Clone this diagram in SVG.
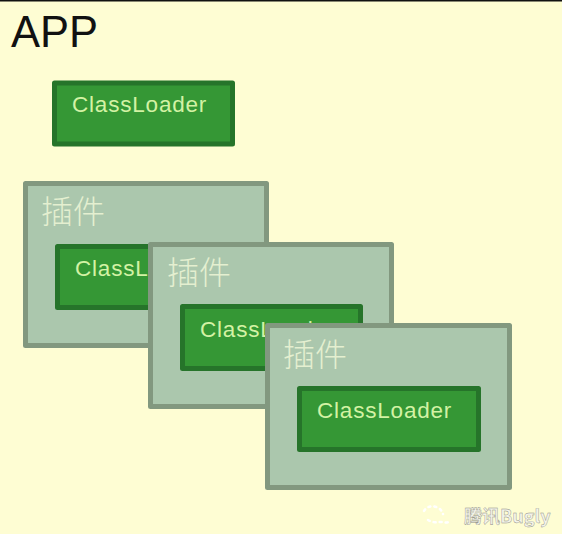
<svg xmlns="http://www.w3.org/2000/svg" width="562" height="534" viewBox="0 0 562 534">
  <style>
    .plugin { fill: #abc7ad; stroke: #82987f; stroke-width: 5; stroke-linejoin: round; }
    .loader { fill: #359735; stroke: #26742a; stroke-width: 5; stroke-linejoin: round; }
    .cl { font-family: "Liberation Sans", Arial, sans-serif; font-size: 22.5px; fill: #d3f2a4; letter-spacing: 0.8px; }
    .cjk { font-family: "Noto Sans CJK SC", "Noto Sans", sans-serif; font-size: 32px; fill: #e4efd0; font-weight: 300; }
  </style>
  <rect x="0" y="0" width="562" height="534" fill="#fefdd3"/>
  <rect x="0" y="0" width="562" height="1.5" fill="#111111"/>
  <text id="title" x="11" y="47" font-family="'Liberation Sans', Arial, sans-serif" font-size="43.500" fill="#111111">APP</text>
  <g id="app-loader">
    <rect class="loader" x="54.5" y="83" width="178" height="61"/>
    <text class="cl" x="72" y="112">ClassLoader</text>
  </g>
  <g id="plugin-1">
    <rect class="plugin" x="25.5" y="183.500" width="241" height="162"/>
    <text class="cjk" x="41" y="223">插件</text>
    <rect class="loader" x="57.500" y="246.500" width="178" height="61"/>
    <text class="cl" x="75" y="276">ClassLoader</text>
  </g>
  <g id="plugin-2">
    <rect class="plugin" x="150.500" y="244.500" width="241" height="162"/>
    <text class="cjk" x="167" y="284">插件</text>
    <rect class="loader" x="182.500" y="306.500" width="178" height="62"/>
    <text class="cl" x="200" y="337">ClassLoader</text>
  </g>
  <g id="plugin-3">
    <rect class="plugin" x="267.500" y="325.500" width="242" height="162"/>
    <text class="cjk" x="283" y="366">插件</text>
    <rect class="loader" x="299.500" y="388.500" width="179" height="61"/>
    <text class="cl" x="317" y="418">ClassLoader</text>
  </g>
  <g id="connectors"/>
  <g id="watermark">
    <path d="M424 511c2-4 8-6 12-4 4 1 6 4 7 7M428 520c3 2 8 3 12 2 4 0 9 2 10-2" fill="none" stroke="#ffffff" stroke-width="2.500" stroke-linecap="round" stroke-dasharray="2 4"/>
    <text x="464" y="523" font-family="'Noto Sans CJK SC', 'Noto Sans', sans-serif" font-size="18" font-weight="700" fill="#f4f4ea" stroke="#8d8d84" stroke-width="0.4">腾讯Bugly</text>
  </g>
</svg>
